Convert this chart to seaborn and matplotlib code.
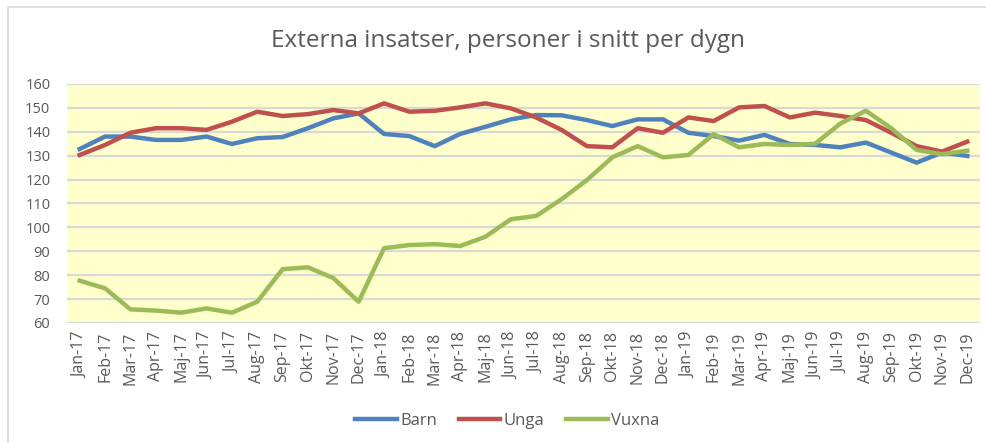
import pandas as pd
import matplotlib
matplotlib.use("Agg")
import matplotlib.pyplot as plt
from matplotlib.patches import Rectangle
import seaborn as sns

months = ["Jan-17", "Feb-17", "Mar-17", "Apr-17", "Maj-17", "Jun-17", "Jul-17", "Aug-17",
          "Sep-17", "Okt-17", "Nov-17", "Dec-17",
          "Jan-18", "Feb-18", "Mar-18", "Apr-18", "Maj-18", "Jun-18", "Jul-18", "Aug-18",
          "Sep-18", "Okt-18", "Nov-18", "Dec-18",
          "Jan-19", "Feb-19", "Mar-19", "Apr-19", "Maj-19", "Jun-19", "Jul-19", "Aug-19",
          "Sep-19", "Okt-19", "Nov-19", "Dec-19"]

barn = [132.8, 138.0, 138.0, 136.6, 136.6, 138.0, 134.9, 137.3, 137.8, 141.5, 145.6, 147.7,
        139.1, 138.2, 134.0, 139.1, 142.1, 145.2, 147.0, 146.9, 144.9, 142.4, 145.2, 145.2,
        139.6, 138.2, 136.3, 138.7, 134.9, 134.5, 133.5, 135.5, 131.3, 127.1, 131.3, 129.9]
unga = [130.3, 134.5, 139.6, 141.5, 141.5, 140.8, 144.2, 148.4, 146.6, 147.4, 149.1, 147.7,
        151.9, 148.4, 148.8, 150.2, 151.9, 149.8, 146.0, 140.8, 134.0, 133.5, 141.5, 139.6,
        146.0, 144.5, 150.2, 150.8, 146.0, 148.0, 146.6, 144.9, 139.6, 134.0, 131.7, 135.9]
vuxna = [77.7, 74.5, 65.7, 65.2, 64.3, 66.1, 64.3, 68.9, 82.5, 83.3, 78.8, 68.9,
         91.3, 92.6, 93.0, 92.2, 96.1, 103.4, 104.8, 111.8, 119.8, 129.3, 134.0, 129.3,
         130.3, 139.0, 133.5, 134.9, 134.5, 135.0, 143.5, 148.8, 141.5, 132.4, 130.6, 132.1]

series_names = ["Barn", "Unga", "Vuxna"]
colors = ["#4F81BD", "#C0504D", "#9BBB59"]

df = pd.DataFrame({
    "Månad": months * 3,
    "Värde": barn + unga + vuxna,
    "Grupp": [n for n in series_names for _ in months],
})

plt.rcParams["font.family"] = ["Open Sans", "DejaVu Sans"]
grey = "#595959"

fig = plt.figure(figsize=(9.87, 4.43), dpi=100)
ax = fig.add_axes([0.0679, 0.2709, 0.925, 0.5395])

sns.lineplot(data=df, x="Månad", y="Värde", hue="Grupp", palette=colors,
             linewidth=3.2, sort=False, ax=ax, legend=True)

ax.set_facecolor("#FFFFCC")
ax.set_xlim(-0.5, len(months) - 0.5)
ax.set_ylim(60, 160)
ax.set_yticks(range(60, 161, 10))
ax.grid(axis="y", color="#D9D9D9", linewidth=1.6)
ax.grid(axis="x", visible=False)
ax.set_axisbelow(True)
for s in ax.spines.values():
    s.set_visible(False)
ax.tick_params(axis="both", length=0, colors=grey, labelsize=10.5)
ax.tick_params(axis="y", pad=12)
ax.tick_params(axis="x", pad=6, labelsize=11.5)
plt.setp(ax.get_xticklabels(), rotation=90)
ax.set_xlabel("")
ax.set_ylabel("")

handles, labels = ax.get_legend_handles_labels()
ax.get_legend().remove()
fig.legend(handles, labels, loc="center", bbox_to_anchor=(0.514, 0.05), ncol=3,
           frameon=False, fontsize=12, handlelength=2.5, handletextpad=0.2,
           columnspacing=1.3, labelcolor=grey)

fig.suptitle("Externa insatser, personer i snitt per dygn", x=0.515, y=0.935,
             fontsize=17.5, color=grey)

fig.add_artist(Rectangle((8 / 987, -0.1), 1.2, 1.1 - 7 / 443, transform=fig.transFigure,
                         fill=False, edgecolor="#D9D9D9", linewidth=1.2))

fig.savefig("out.png", dpi=100)
